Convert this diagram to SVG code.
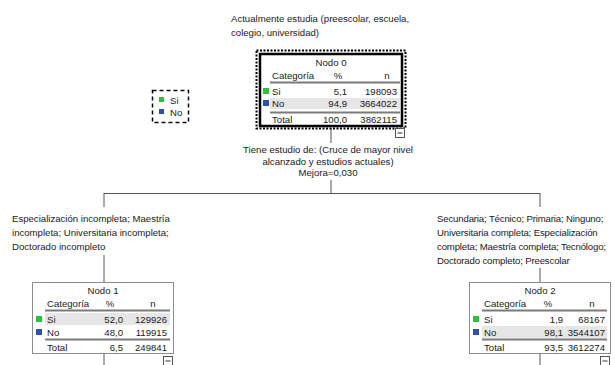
<svg xmlns="http://www.w3.org/2000/svg" width="615" height="365" viewBox="0 0 615 365">
<style>
text{font-family:"Liberation Sans",Arial,sans-serif;font-size:9.6px;fill:#1a1a1a}
.m{text-anchor:middle}
.r{text-anchor:end}
.box{fill:#fff;stroke:#8c8c8c;stroke-width:1}
.sel{fill:#fff;stroke:#000;stroke-width:2.5}
.hl{fill:#e6e6e6}
.rule{stroke:#7a7a7a;stroke-width:2}
.ln{stroke:#555;stroke-width:1;fill:none}
.si{fill:#2fbf3f}
.no{fill:#3050b0}
.tog{fill:#fff;stroke:#555;stroke-width:1}
.nar{letter-spacing:-0.15px}
</style>
<defs>
<g id="tog"><rect class="tog" x="0.5" y="0.5" width="9" height="9"/><line x1="2.5" y1="5" x2="7.5" y2="5" stroke="#333"/></g>
</defs>

<g id="connectors">
<line class="ln" x1="331" y1="128" x2="331" y2="143"/>
<line class="ln" x1="331" y1="180" x2="331" y2="193"/>
<line class="ln" x1="104" y1="193.5" x2="540" y2="193.5"/>
<line class="ln" x1="104" y1="193" x2="104" y2="207"/>
<line class="ln" x1="104" y1="255" x2="104" y2="282"/>
<line class="ln" x1="540" y1="193" x2="540" y2="207"/>
<line class="ln" x1="540" y1="268" x2="540" y2="282"/>
<line class="ln" x1="104" y1="354" x2="104" y2="365"/>
<line class="ln" x1="540" y1="354" x2="540" y2="365"/>
</g>

<g id="title">
<text x="231" y="22">Actualmente estudia (preescolar, escuela,</text>
<text x="231" y="36">colegio, universidad)</text>
</g>

<g id="legend">
<rect x="152.5" y="90.5" width="36" height="32" fill="none" stroke="#000" stroke-width="1.5" stroke-dasharray="4 3"/>
<rect class="si" x="159" y="97" width="5" height="5"/>
<text x="170" y="104">Si</text>
<rect class="no" x="159" y="109" width="5" height="5"/>
<text x="170" y="116">No</text>
</g>

<g id="node0">
<rect x="256.5" y="50.5" width="149" height="78" fill="none" stroke="#000" stroke-width="2" stroke-dasharray="2 1.5"/>
<rect class="sel" x="260" y="54" width="142" height="72"/>
<text class="m" x="331" y="66">Nodo 0</text>
<text x="272" y="79">Categoría</text>
<text class="m" x="338" y="79">%</text>
<text class="m" x="387" y="79">n</text>
<line class="rule" x1="270" y1="82.5" x2="400" y2="82.5"/>
<rect class="si" x="263" y="88" width="6" height="6"/>
<text x="272" y="95">Si</text>
<text class="r" x="347" y="95">5,1</text>
<text class="r" x="397" y="95">198093</text>
<rect class="hl" x="270" y="98" width="130" height="11"/>
<rect class="no" x="263" y="100" width="6" height="6"/>
<text x="272" y="107">No</text>
<text class="r" x="347" y="107">94,9</text>
<text class="r" x="397" y="107">3664022</text>
<line class="rule" x1="270" y1="112.5" x2="400" y2="112.5"/>
<text x="272" y="123">Total</text>
<text class="r" x="347" y="123">100,0</text>
<text class="r" x="397" y="123">3862115</text>
<use href="#tog" x="395" y="128"/>
</g>

<g id="split0">
<text class="m" x="328" y="153">Tiene estudio de: (Cruce de mayor nivel</text>
<text class="m" x="328" y="165">alcanzado y estudios actuales)</text>
<text class="m" x="328" y="176">Mejora=0,030</text>
</g>

<g id="label1">
<text x="12" y="222">Especialización incompleta; Maestría</text>
<text x="12" y="236">incompleta; Universitaria incompleta;</text>
<text x="12" y="250">Doctorado incompleto</text>
</g>

<g id="label2" class="nar">
<text x="437" y="222">Secundaria; Técnico; Primaria; Ninguno;</text>
<text x="437" y="236">Universitaria completa; Especialización</text>
<text x="437" y="250">completa; Maestría completa; Tecnólogo;</text>
<text x="437" y="264">Doctorado completo; Preescolar</text>
</g>

<g id="node1">
<rect class="box" x="32.5" y="282.5" width="141" height="71"/>
<text class="m" x="103" y="294">Nodo 1</text>
<text x="47" y="307">Categoría</text>
<text class="m" x="110" y="307">%</text>
<text class="m" x="153" y="307">n</text>
<line class="rule" x1="45" y1="310.5" x2="170" y2="310.5"/>
<rect class="hl" x="45" y="313" width="125" height="12"/>
<rect class="si" x="36" y="316" width="6" height="6"/>
<text x="47" y="323">Si</text>
<text class="r" x="123" y="323">52,0</text>
<text class="r" x="167" y="323">129926</text>
<rect class="no" x="36" y="329" width="6" height="6"/>
<text x="47" y="336">No</text>
<text class="r" x="123" y="336">48,0</text>
<text class="r" x="167" y="336">119915</text>
<line class="rule" x1="45" y1="339.5" x2="170" y2="339.5"/>
<text x="47" y="351">Total</text>
<text class="r" x="123" y="351">6,5</text>
<text class="r" x="167" y="351">249841</text>
<use href="#tog" x="163" y="356"/>
</g>

<g id="node2">
<rect class="box" x="469.5" y="282.5" width="141" height="71"/>
<text class="m" x="540" y="294">Nodo 2</text>
<text x="484" y="307">Categoría</text>
<text class="m" x="548" y="307">%</text>
<text class="m" x="592" y="307">n</text>
<line class="rule" x1="482" y1="310.5" x2="607" y2="310.5"/>
<rect class="si" x="473" y="316" width="6" height="6"/>
<text x="484" y="323">Si</text>
<text class="r" x="563" y="323">1,9</text>
<text class="r" x="605" y="323">68167</text>
<rect class="hl" x="482" y="326" width="125" height="12"/>
<rect class="no" x="473" y="329" width="6" height="6"/>
<text x="484" y="336">No</text>
<text class="r" x="563" y="336">98,1</text>
<text class="r" x="605" y="336">3544107</text>
<line class="rule" x1="482" y1="339.5" x2="607" y2="339.5"/>
<text x="484" y="351">Total</text>
<text class="r" x="563" y="351">93,5</text>
<text class="r" x="605" y="351">3612274</text>
<use href="#tog" x="600" y="356"/>
</g>
</svg>
